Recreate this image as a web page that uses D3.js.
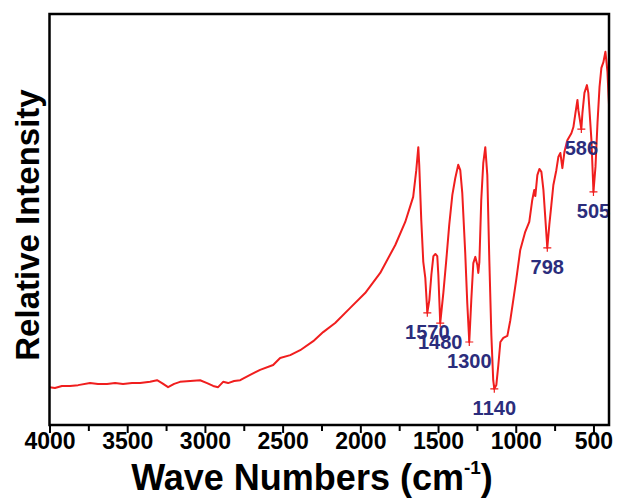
<!DOCTYPE html>
<html lang="en">
<head>
  <meta charset="UTF-8">
  <title>FTIR spectrum</title>
  <script src="https://d3js.org/d3.v7.min.js"></script>
  <style>
    body {
      margin: 0;
      background: #fff;
      font-family: "Liberation Sans", Arial, sans-serif;
    }
    .tick-label {
      font-size: 23px;
      font-weight: bold;
    }
    .axis-title {
      font-size: 36px;
      font-weight: bold;
    }
    .y-title {
      font-size: 33px;
      font-weight: bold;
    }
    .peak-label {
      font-size: 20px;
      font-weight: bold;
      fill: #2b2d7c;
    }
  </style>
</head>
<body>
  <svg width="617" height="500"></svg>

  <script>
    // spectrum (wave number cm-1, relative intensity 0-100)
    const waveNumbers = [
      4000, 3965, 3920, 3868, 3816, 3739, 3688, 3630, 3578, 3527, 3469, 3417,
      3353, 3308, 3276, 3237, 3198, 3160, 3095, 3031, 2986, 2947, 2915, 2883,
      2851, 2812, 2773, 2709, 2645, 2561, 2516, 2451, 2387, 2303, 2239, 2162,
      2065, 1969, 1872, 1775, 1711, 1660, 1640, 1627, 1621, 1608, 1595, 1582,
      1569, 1556, 1543, 1530, 1517, 1505, 1498, 1486, 1466, 1447, 1428, 1408,
      1389, 1370, 1357, 1344, 1325, 1312, 1299, 1286, 1273, 1260, 1247, 1241,
      1234, 1222, 1209, 1196, 1183, 1170, 1157, 1145, 1138, 1125, 1112, 1099,
      1080, 1054, 1035, 1016, 997, 971, 939, 913, 894, 881, 874, 861,
      848, 835, 822, 809, 797, 784, 771, 758, 739, 726, 713, 700,
      687, 668, 642, 629, 616, 603, 597, 578, 571, 558, 542, 533,
      513, 500, 487, 474, 461, 449, 436, 423, 416, 410, 403, 400
    ];
    const intensity = [
      9.2, 9.0, 9.5, 9.5, 9.7, 10.2, 10.0, 10.0, 10.2, 10.0, 10.2, 10.2,
      10.5, 10.9, 10.2, 9.2, 10.0, 10.5, 10.7, 10.9, 10.2, 9.5, 9.2, 10.5,
      10.2, 10.7, 10.9, 12.2, 13.4, 14.6, 16.3, 17.0, 18.2, 20.4, 22.6, 24.8,
      28.5, 32.1, 37.0, 43.8, 49.4, 55.5, 62.0, 67.6, 63.3, 49.9, 39.7, 35.8,
      27.3, 30.4, 36.5, 41.1, 41.6, 41.1, 36.5, 24.8, 32.1, 40.1, 48.7, 56.0,
      60.1, 63.3, 62.0, 56.4, 41.8, 29.7, 20.2, 30.4, 39.4, 40.9, 38.9, 37.0,
      39.7, 54.7, 63.7, 67.6, 60.8, 40.1, 21.9, 10.9, 8.8, 9.7, 14.6, 20.2,
      21.2, 21.7, 25.5, 30.4, 35.3, 42.6, 47.0, 49.4, 54.7, 57.2, 55.7, 60.8,
      62.3, 61.6, 57.2, 49.9, 43.1, 48.7, 53.5, 58.4, 62.0, 65.2, 66.2, 62.5,
      66.4, 69.3, 71.0, 72.5, 75.9, 79.1, 76.6, 72.0, 75.9, 80.8, 82.7, 80.8,
      69.3, 56.7, 62.8, 73.5, 82.2, 86.9, 88.3, 90.8, 88.3, 85.9, 80.3, 78.0
    ];

    // marked bands: where the cross sits and the text printed under it
    const peakWn = [1569, 1486, 1299, 1138, 797, 578, 500];
    const peakLabels = ["1570", "1480", "1300", "1140", "798", "586", "505"];

    const majorTicks = [4000, 3500, 3000, 2500, 2000, 1500, 1000, 500];
    const minorTicks = [3750, 3250, 2750, 2250, 1750, 1250, 750];

    const svg = d3.select("svg"),
          margin = {top: 14, right: 8, bottom: 75, left: 49.5},
          width = +svg.attr("width") - margin.left - margin.right,
          height = +svg.attr("height") - margin.top - margin.bottom;

    const g = svg.append("g")
                 .attr("transform", `translate(${margin.left},${margin.top})`);

    const x = d3.scaleLinear()
                .domain([4000, 400])
                .range([0, width]);

    const y = d3.scaleLinear()
                .domain([0, 100])
                .range([height, 0]);

    const data = waveNumbers.map((w, i) => ({w: w, v: intensity[i]}));

    // ticks, outward only on the bottom
    const xAxis = g.append("g")
      .attr("transform", `translate(0,${height})`)
      .call(d3.axisBottom(x).tickValues(majorTicks).tickSize(8).tickFormat(d3.format("d")));
    xAxis.select(".domain").remove();
    xAxis.selectAll(".tick line").attr("stroke", "#000").attr("stroke-width", 2);
    xAxis.selectAll(".tick text")
      .attr("class", "tick-label")
      .attr("fill", "#000")
      .attr("dy", null)
      .attr("y", 24);

    g.append("g")
      .attr("transform", `translate(0,${height})`)
      .call(d3.axisBottom(x).tickValues(minorTicks).tickSize(6).tickFormat(""))
      .call(a => a.select(".domain").remove())
      .selectAll(".tick line").attr("stroke", "#000").attr("stroke-width", 2);

    // spectrum
    const line = d3.line()
      .x(d => x(d.w))
      .y(d => y(d.v));

    g.append("path")
      .datum(data)
      .attr("fill", "none")
      .attr("stroke", "#f01e1e")
      .attr("stroke-width", 2)
      .attr("stroke-linejoin", "round")
      .attr("d", line);

    // crosses and labels at the bands
    const lookup = w => {
      const d = data.find(p => p.w === w);
      return d ? d.v : 0;
    };
    const peaks = peakWn.map((w, i) => ({w: w, v: lookup(w), label: peakLabels[i]}));

    const marks = g.selectAll(".peak")
      .data(peaks)
      .enter()
      .append("g")
        .attr("class", "peak")
        .attr("transform", d => `translate(${x(d.w)},${y(d.v)})`);

    marks.append("path")
      .attr("d", "M-4,0H4M0,-4V4")
      .attr("stroke", "#f01e1e")
      .attr("stroke-width", 1.2);

    marks.append("text")
      .attr("class", "peak-label")
      .attr("text-anchor", "middle")
      .attr("y", 26)
      .text(d => d.label);

    // frame
    g.append("rect")
      .attr("width", width)
      .attr("height", height)
      .attr("fill", "none")
      .attr("stroke", "#000")
      .attr("stroke-width", 2.5);

    // axis titles
    const xt = svg.append("text")
      .attr("class", "axis-title")
      .attr("x", 312)
      .attr("y", 490)
      .attr("text-anchor", "middle");
    xt.append("tspan").text("Wave Numbers (cm");
    xt.append("tspan").attr("dy", -16).style("font-size", "19px").text("-1");
    xt.append("tspan").attr("dy", 16).text(")");

    svg.append("text")
      .attr("class", "y-title")
      .attr("transform", "translate(39,225) rotate(-90)")
      .attr("text-anchor", "middle")
      .text("Relative Intensity");
  </script>
</body>
</html>
